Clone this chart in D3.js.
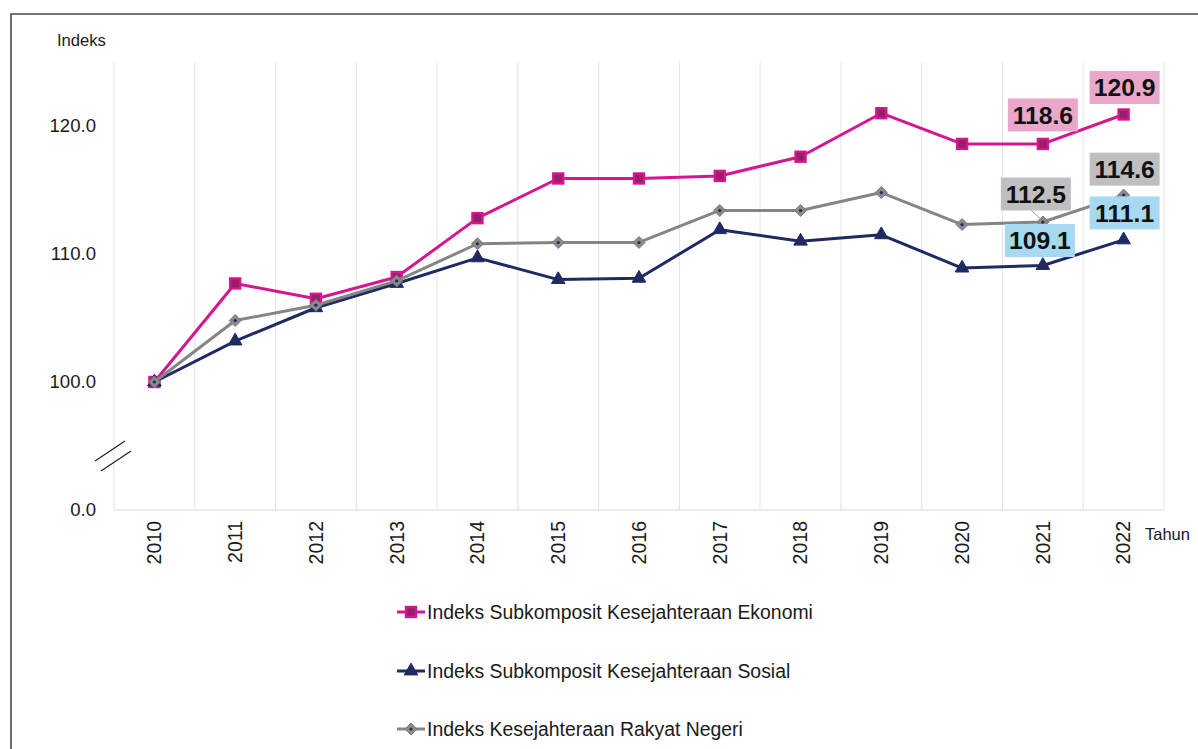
<!DOCTYPE html>
<html>
<head>
<meta charset="utf-8">
<script src="https://cdn.jsdelivr.net/npm/d3@7"></script>
<style>
  html, body { margin: 0; padding: 0; background: #fff; }
  svg { display: block; font-family: "Liberation Sans", Arial, sans-serif; }
</style>
</head>
<body>
<svg id="chart" width="1198" height="749"></svg>
<script>
// Years on the category axis
const years = ["2010","2011","2012","2013","2014","2015","2016","2017","2018","2019","2020","2021","2022"];

// Index series (2010 = 100)
const ekonomi = [100.0, 107.7, 106.5, 108.2, 112.8, 115.9, 115.9, 116.1, 117.6, 121.0, 118.6, 118.6, 120.9];
const sosial  = [100.0, 103.2, 105.8, 107.7, 109.7, 108.0, 108.1, 111.9, 111.0, 111.5, 108.9, 109.1, 111.1];
const rakyat  = [100.0, 104.8, 106.0, 107.9, 110.8, 110.9, 110.9, 113.4, 113.4, 114.8, 112.3, 112.5, 114.6];

const seriesNames = [
  "Indeks Subkomposit Kesejahteraan Ekonomi",
  "Indeks Subkomposit Kesejahteraan Sosial",
  "Indeks Kesejahteraan Rakyat Negeri"
];

// Y axis: broken axis, the bottom tick stands for zero
const yTickValues = [90, 100, 110, 120];
const yTickLabels = ["0.0", "100.0", "110.0", "120.0"];

// Values called out with boxes (series index, year)
const callouts = [
  { s: 0, year: "2021" }, { s: 0, year: "2022" },
  { s: 2, year: "2021" }, { s: 2, year: "2022" },
  { s: 1, year: "2021" }, { s: 1, year: "2022" }
];

const svg = d3.select("#chart");
const W = 1198, H = 749;

const plot = { left: 114, right: 1164, top: 62, bottom: 510 };

const x = d3.scaleBand().domain(years).range([plot.left, plot.right]).padding(0);
const y = d3.scaleLinear().domain([90, 125]).range([plot.bottom, plot.top]);

const styles = [
  { line: "#d6168f", fill: "#c0187f", inner: "#962068", shape: "square" },
  { line: "#1f2a63", fill: "#1f2a63", inner: "#1f2a63", shape: "triangle" },
  { line: "#858585", fill: "#8a8a8a", inner: "#1f2a63", shape: "diamond" }
];
const boxFill = ["#eba7c9", "#a8d9f3", "#bfbfbf"];
const allSeries = [ekonomi, sosial, rakyat];

// Outer frame
svg.append("path")
  .attr("d", `M11,${H} L11,14 L${W},14`)
  .attr("fill", "none").attr("stroke", "#4a4a4a").attr("stroke-width", 1.6);

// Vertical gridlines at category boundaries
const bounds = years.map(d => x(d)).concat([plot.right]);
svg.append("g").selectAll("line").data(bounds).join("line")
  .attr("x1", d => d).attr("x2", d => d)
  .attr("y1", plot.top).attr("y2", plot.bottom)
  .attr("stroke", "#e3e3e3").attr("stroke-width", 1);

// Bottom axis line
svg.append("line")
  .attr("x1", plot.left).attr("x2", plot.right)
  .attr("y1", plot.bottom).attr("y2", plot.bottom)
  .attr("stroke", "#d9d9d9").attr("stroke-width", 1.2);

// Y axis labels
const yAxis = d3.axisLeft(y).tickValues(yTickValues)
  .tickFormat((d, i) => yTickLabels[i]).tickSize(0).tickPadding(18);
const gy = svg.append("g").attr("transform", `translate(${plot.left},0)`).call(yAxis);
gy.select(".domain").remove();
gy.selectAll("text").attr("font-size", 18.6).attr("fill", "#1a1a1a")
  .attr("font-family", "'Liberation Sans', Arial, sans-serif");

svg.append("text").attr("x", 57).attr("y", 46)
  .attr("font-size", 16.6).attr("fill", "#1a1a1a").text("Indeks");

// Axis break marks
const brk = svg.append("g").attr("stroke", "#1a1a1a").attr("stroke-width", 1.1);
brk.append("line").attr("x1", 95).attr("y1", 461).attr("x2", 125).attr("y2", 441);
brk.append("line").attr("x1", 101).attr("y1", 471).attr("x2", 131).attr("y2", 451);

// X axis labels, rotated
const xAxis = d3.axisBottom(x).tickSize(0).tickPadding(0);
const gx = svg.append("g").attr("transform", `translate(0,${plot.bottom})`).call(xAxis);
gx.select(".domain").remove();
gx.selectAll("text")
  .attr("font-size", 19.5).attr("fill", "#1a1a1a")
  .attr("font-family", "'Liberation Sans', Arial, sans-serif")
  .attr("text-anchor", "end")
  .attr("dy", "0.35em")
  .attr("transform", "translate(0,11) rotate(-90)")
  .attr("y", 0).attr("x", 0);

svg.append("text").attr("x", 1145).attr("y", 540)
  .attr("font-size", 16.5).attr("fill", "#1a1a1a").text("Tahun");

// Markers
function marker(g, shape, st) {
  if (shape === "square") {
    const s = 10;
    g.append("rect").attr("x", -s/2).attr("y", -s/2).attr("width", s).attr("height", s)
      .attr("fill", st.inner).attr("stroke", st.line).attr("stroke-width", 2.4);
  } else if (shape === "triangle") {
    g.append("path").attr("d", d3.symbol(d3.symbolTriangle, 80)())
      .attr("fill", st.fill).attr("stroke", st.fill).attr("stroke-width", 1);
  } else {
    g.append("path").attr("d", "M0,-6 L6,0 L0,6 L-6,0 Z")
      .attr("fill", st.fill).attr("stroke", "#7a7a7a").attr("stroke-width", 1);
    g.append("circle").attr("r", 1.6).attr("fill", st.inner);
  }
}

const line = d3.line().x((d, i) => x(years[i]) + x.bandwidth() / 2).y(d => y(d));

allSeries.forEach((vals, si) => {
  const st = styles[si];
  const g = svg.append("g");
  g.append("path").datum(vals).attr("d", line)
    .attr("fill", "none").attr("stroke", st.line).attr("stroke-width", 3)
    .attr("stroke-linejoin", "round");
  vals.forEach((v, i) => {
    const m = g.append("g").attr("transform", `translate(${x(years[i]) + x.bandwidth()/2},${y(v)})`);
    marker(m, st.shape, st);
  });
});

// Value callouts
const boxOffset = { "0-2021": [0, -29], "0-2022": [1, -27], "2-2021": [-7, -28],
                    "2-2022": [1, -26], "1-2021": [-3, -25], "1-2022": [1, -27] };
callouts.forEach(c => {
  const i = years.indexOf(c.year);
  const v = allSeries[c.s][i];
  const px = x(c.year) + x.bandwidth() / 2, py = y(v);
  const off = boxOffset[c.s + "-" + c.year];
  const cx = px + off[0], cy = py + off[1];
  const g = svg.append("g");
  if (c.s === 2 && c.year === "2021") {
    g.append("line").attr("x1", px - 12).attr("y1", cy + 16).attr("x2", px - 2).attr("y2", py - 3)
      .attr("stroke", "#8a8a8a").attr("stroke-width", 0.8);
  }
  g.append("rect").attr("x", cx - 35).attr("y", cy - 16.5).attr("width", 70).attr("height", 33)
    .attr("fill", boxFill[c.s]);
  g.append("text").attr("x", cx).attr("y", cy).attr("dy", "0.36em")
    .attr("text-anchor", "middle").attr("font-size", 24.7).attr("font-weight", "bold")
    .attr("fill", "#111").text(v.toFixed(1));
});

// Legend
const legendY = [612, 671, 729];
seriesNames.forEach((name, si) => {
  const st = styles[si];
  const g = svg.append("g").attr("transform", `translate(397,${legendY[si]})`);
  g.append("line").attr("x1", 0).attr("x2", 28).attr("y1", 0).attr("y2", 0)
    .attr("stroke", st.line).attr("stroke-width", 3);
  const m = g.append("g").attr("transform", "translate(14,0)");
  marker(m, st.shape, st);
  g.append("text").attr("x", 30).attr("y", 0).attr("dy", "0.35em")
    .attr("font-size", 19.4).attr("fill", "#1a1a1a").text(name);
});
</script>
</body>
</html>
